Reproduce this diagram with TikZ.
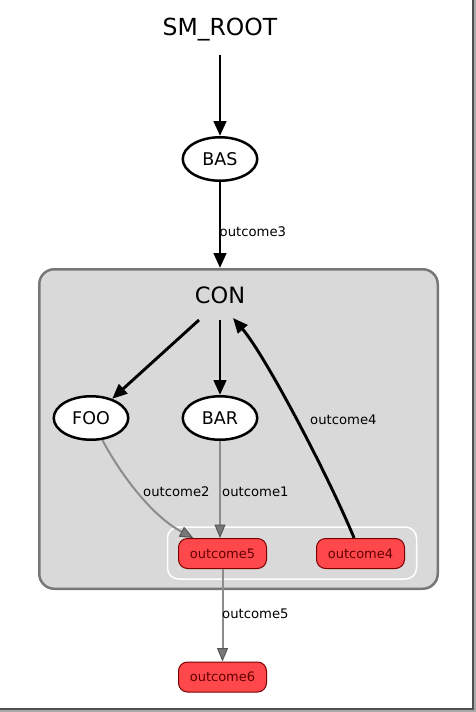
\documentclass[tikz,border=0pt]{standalone}
\usepackage{fontspec}
\setmainfont{DejaVu Sans}
\usetikzlibrary{arrows.meta,shapes.geometric}
\definecolor{clusterfill}{RGB}{217,217,217}
\definecolor{clusterline}{RGB}{119,119,119}
\definecolor{outfill}{RGB}{255,72,76}
\definecolor{outborder}{RGB}{125,0,0}
\definecolor{outtext}{RGB}{100,0,0}
\definecolor{edgegray}{RGB}{140,140,140}
\definecolor{headgray}{RGB}{120,120,120}
\definecolor{headline}{RGB}{85,85,85}
\definecolor{shadowdark}{RGB}{80,80,80}
\definecolor{shadowlight}{RGB}{170,170,170}
\tikzset{
  statenode/.style={ellipse, draw=black, line width=2.5pt, fill=white,
    minimum width=74.5pt, minimum height=43.5pt, inner sep=0pt,
    font=\fontsize{17.5}{20}\selectfont},
  outnode/.style={rounded corners=9pt, draw=outborder, fill=outfill, line width=1pt,
    minimum width=88pt, minimum height=30pt, inner sep=0pt, text=outtext,
    font=\fontsize{13}{15}\selectfont},
  clusterbox/.style={rounded corners=15pt, draw=clusterline, fill=clusterfill,
    line width=2.5pt, inner sep=0pt},
  innerbox/.style={rounded corners=11pt, draw=white, line width=1.5pt, inner sep=0pt},
  blackedge/.style={draw=black, line width=2.9pt, -{Triangle[length=15pt,width=12.5pt]}},
  grayedge/.style={draw=edgegray, line width=2pt,
    -{Triangle[length=13.5pt,width=11pt,fill=headgray,color=headline,line width=1pt]}},
  elabel/.style={font=\fontsize{13.2}{15}\selectfont, anchor=west, inner sep=0pt},
  bigtitle/.style={font=\fontsize{23.5}{26}\selectfont, inner sep=0pt},
}
\begin{document}
\begin{tikzpicture}[x=1pt,y=-1pt]
\useasboundingbox (0,0) rectangle (476,712);
% screenshot frame shadow
\fill[shadowlight] (474,0) rectangle (476,712);
\fill[shadowlight] (0,710) rectangle (476,712);
\fill[shadowdark] (471.5,0) rectangle (474,710);
\fill[shadowdark] (0,708) rectangle (474,710);

% cluster
\node[clusterbox, minimum width=398.5pt, minimum height=319.5pt] (con) at (238.5,429) {};
\node[bigtitle, font=\fontsize{22.5}{25}\selectfont] (conlabel) at (220,295) {CON};
\node[innerbox, minimum width=249pt, minimum height=52pt] (inner) at (292,553) {};

% top
\node[bigtitle] (root) at (220,30) {SM\_ROOT};
\coordinate (rootout) at (220,55);
\node[statenode] (bas) at (220,159) {BAS};

% states
\node[statenode] (foo) at (91,418) {FOO};
\node[statenode] (bar) at (220,418) {BAR};

% outcomes
\node[outnode] (o5) at (222.5,553.5) {outcome5};
\node[outnode] (o4) at (360.5,553.5) {outcome4};
\node[outnode] (o6) at (222.5,677) {outcome6};

% connector anchor points from CON
\coordinate (c1) at (199,320);
\coordinate (c2) at (220,320);
\coordinate (c3) at (233,318);

% edges
\draw[blackedge] (rootout) -- (bas);
\draw[blackedge] (bas.south) -- (bas.south |- con.north);
\node[elabel] (l3) at (219.5,232) {outcome3};

\draw[blackedge] (c1) -- (foo);
\draw[blackedge] (c2) -- (bar);
\draw[blackedge] (o4) .. controls (328,475) and (265,355) .. (c3);
\node[elabel] (l4) at (310,420) {outcome4};

\draw[grayedge] (foo) .. controls (118,470) and (150,515) .. (o5);
\node[elabel] (l2) at (143,492) {outcome2};
\draw[grayedge] (bar.south) -- (bar.south |- o5.north);
\node[elabel] (l1) at (222,492) {outcome1};

\draw[grayedge] (o5.south) -- (o6.north);
\node[elabel] (l5) at (222,614) {outcome5};
\end{tikzpicture}
\end{document}
